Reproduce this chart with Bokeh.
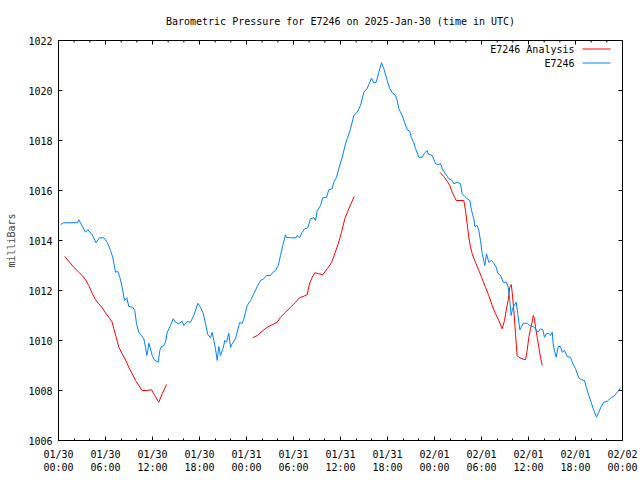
import math
from bokeh.plotting import figure
from bokeh.models import FixedTicker, Range1d, Label, BoxAnnotation
from bokeh.embed import file_html
from bokeh.resources import INLINE

NAN = float("nan")
FONT = "DejaVu Sans Mono"
RED = "#ff0000"
BLUE = "#0080ff"

# x in hours since 2025-01-30 00:00 UTC
X_START, X_END = 0, 72
Y_START, Y_END = 1006, 1022
tick_hours = [0, 6, 12, 18, 24, 30, 36, 42, 48, 54, 60, 66, 72]
tick_labels = ["01/30\n00:00", "01/30\n06:00", "01/30\n12:00", "01/30\n18:00",
               "01/31\n00:00", "01/31\n06:00", "01/31\n12:00", "01/31\n18:00",
               "02/01\n00:00", "02/01\n06:00", "02/01\n12:00", "02/01\n18:00",
               "02/02\n00:00"]
minor_hours = [2, 4, 8, 10, 14, 16, 20, 22, 26, 28, 32, 34, 38, 40, 44, 46, 50, 52,
               56, 58, 62, 64, 68, 70]
y_ticks = [1006, 1008, 1010, 1012, 1014, 1016, 1018, 1020, 1022]
series_names = ["E7246 Analysis", "E7246"]

obs_hours = [0.26, 0.64, 2.43, 2.59, 3.45, 3.74, 4.30, 4.81, 5.23, 5.78, 6.22, 6.64, 6.93,
             7.28, 7.57, 7.83, 8.13, 8.43, 8.72, 8.97, 9.49, 9.74, 9.96, 10.25, 10.60,
             10.89, 11.11, 11.27, 11.40, 11.53, 11.74, 11.96, 12.22, 12.73, 12.93, 13.15,
             13.37, 13.66, 13.88, 14.30, 14.64, 14.94, 15.36, 15.79, 16.00, 16.43, 16.85,
             17.27, 17.78, 18.13, 18.47, 18.77, 19.06, 19.40, 19.62, 19.83, 20.04, 20.26,
             20.46, 20.68, 21.03, 21.23, 21.45, 21.74, 21.96, 22.17, 22.60, 22.81, 23.11,
             23.45, 23.66, 24.09, 24.51, 24.93, 25.37, 25.79, 26.21, 26.55, 27.06, 27.32,
             27.70, 28.05, 28.34, 28.63, 28.98, 29.07, 29.62, 30.34, 30.47, 30.77, 31.11,
             31.44, 31.83, 32.17, 32.59, 32.81, 33.03, 33.45, 33.74, 34.21, 34.51, 34.94,
             35.14, 35.49, 35.78, 36.22, 36.64, 36.86, 37.28, 37.70, 38.13, 38.55, 38.97,
             39.41, 39.74, 39.96, 40.25, 40.56, 40.89, 41.23, 41.53, 41.96, 42.29, 42.60,
             43.02, 43.24, 43.44, 43.88, 44.17, 44.51, 44.85, 45.03, 45.36, 45.57, 46.00,
             46.43, 46.76, 47.07, 47.19, 47.71, 48.13, 48.55, 48.77, 48.98, 49.40, 49.83,
             50.26, 50.46, 50.89, 51.32, 51.53, 51.87, 52.17, 52.51, 52.72, 53.02, 53.15,
             53.45, 53.66, 53.87, 54.09, 54.29, 54.42, 54.64, 54.93, 55.28, 55.57, 55.88,
             56.08, 56.43, 56.77, 57.19, 57.41, 57.61, 57.79, 57.96, 58.17, 58.43, 58.63,
             58.89, 59.11, 59.32, 59.83, 60.17, 60.60, 60.89, 61.19, 61.53, 61.83, 62.04,
             62.30, 62.59, 62.81, 63.03, 63.15, 63.36, 63.54, 63.79, 64.09, 64.30, 64.60,
             64.94, 65.36, 65.66, 66.00, 66.42, 66.73, 67.15, 67.40, 67.70, 68.00, 68.26,
             68.68, 68.97, 69.28, 69.61, 70.05, 70.38, 70.60, 70.89, 71.23, 71.53, 71.74]
obs_mbar = [1014.63, 1014.71, 1014.71, 1014.83, 1014.33, 1014.43, 1014.23, 1013.91, 1014.11,
            1014.11, 1013.93, 1013.60, 1013.33, 1012.73, 1012.77, 1012.53, 1012.13, 1011.60,
            1011.71, 1011.36, 1011.33, 1011.20, 1010.67, 1010.33, 1010.20, 1010.07, 1009.73,
            1009.40, 1009.60, 1009.89, 1009.67, 1009.40, 1009.23, 1009.13, 1009.60, 1009.77,
            1009.77, 1009.93, 1010.33, 1010.60, 1010.87, 1010.73, 1010.67, 1010.77, 1010.60,
            1010.76, 1010.73, 1011.00, 1011.49, 1011.33, 1011.09, 1010.67, 1010.24, 1010.11,
            1010.33, 1010.00, 1009.67, 1009.20, 1009.76, 1009.40, 1009.71, 1010.00, 1009.93,
            1010.29, 1009.73, 1009.87, 1010.07, 1010.33, 1010.71, 1010.69, 1010.87, 1011.40,
            1011.60, 1011.87, 1012.16, 1012.40, 1012.47, 1012.60, 1012.60, 1012.71, 1012.80,
            1013.00, 1013.40, 1013.80, 1014.23, 1014.13, 1014.11, 1014.11, 1014.20, 1014.11,
            1014.33, 1014.47, 1014.51, 1014.87, 1014.91, 1014.80, 1015.20, 1015.40, 1015.71,
            1015.73, 1016.03, 1016.07, 1016.33, 1016.53, 1016.87, 1017.33, 1017.87, 1018.07,
            1018.47, 1019.00, 1019.13, 1019.40, 1019.93, 1020.09, 1020.33, 1020.49, 1020.31,
            1020.33, 1020.73, 1021.11, 1020.87, 1020.40, 1020.07, 1019.91, 1019.80, 1019.60,
            1019.27, 1019.00, 1018.73, 1018.44, 1018.36, 1018.13, 1017.91, 1017.69, 1017.33,
            1017.33, 1017.51, 1017.60, 1017.47, 1017.40, 1017.07, 1017.04, 1017.09, 1016.87,
            1016.67, 1016.47, 1016.40, 1016.27, 1016.33, 1016.27, 1015.87, 1015.76, 1015.67,
            1015.60, 1015.20, 1014.87, 1014.56, 1014.60, 1014.40, 1014.00, 1013.47, 1013.20,
            1013.00, 1013.47, 1013.13, 1013.20, 1013.09, 1012.93, 1012.69, 1012.60, 1012.33,
            1012.33, 1012.13, 1011.60, 1011.00, 1011.27, 1011.40, 1011.53, 1011.07, 1010.43,
            1010.56, 1010.69, 1010.69, 1010.60, 1010.56, 1010.47, 1010.33, 1010.47, 1010.43,
            1010.13, 1010.27, 1010.29, 1010.20, 1010.33, 1009.87, 1009.53, 1009.33, 1009.76,
            1009.76, 1009.53, 1009.60, 1009.36, 1009.33, 1009.07, 1008.87, 1008.51, 1008.43,
            1008.40, 1008.11, 1007.80, 1007.53, 1007.27, 1006.93, 1007.13, 1007.36, 1007.53,
            1007.57, 1007.67, 1007.73, 1007.76, 1007.89, 1008.00, 1008.11]

# analysis series (NaN = gap between analysis runs)
ana_hours = [0.80, 1.31, 1.95, 2.59, 3.03, 3.45, 3.87, 4.30, 4.72, 5.14, 5.58, 6.00, 6.42,
             6.86, 7.06, 7.37, 7.70, 8.13, 8.55, 8.97, 9.41, 9.83, 10.25, 10.68, 11.20,
             11.87, 12.29, 12.80, 13.24, 13.79, NAN,
             24.80, 25.37, 26.00, 26.64, 27.28, 27.92, 28.34, 28.98, 29.62, 30.26, 30.77,
             31.31, 31.75, 32.04, 32.39, 32.72, 33.23, 33.74, 34.30, 34.85, 35.27, 35.71,
             36.13, 36.55, 37.06, 37.75, NAN,
             48.68, 49.19, 49.62, 49.95, 50.26, 50.59, 50.77, 51.74, 51.96, 52.17, 52.38,
             52.60, 52.81, 53.23, 53.66, 54.09, 54.51, 54.93, 55.36, 55.79, 56.21, 56.64,
             56.94, 57.19, 57.41, 57.61, 57.79, 57.92, 58.13, 58.34, 58.55, 58.76, 59.19,
             59.62, 59.83, 60.04, 60.26, 60.47, 60.60, 60.77, 60.89, 61.11, 61.32, 61.53,
             61.75]
ana_mbar = [1013.36, 1013.17, 1012.93, 1012.73, 1012.60, 1012.43, 1012.20, 1011.89, 1011.63,
            1011.47, 1011.31, 1011.11, 1010.93, 1010.73, 1010.47, 1010.13, 1009.73, 1009.47,
            1009.23, 1008.93, 1008.67, 1008.40, 1008.20, 1008.00, 1008.00, 1008.03, 1007.80,
            1007.53, 1007.87, 1008.24, NAN,
            1010.11, 1010.20, 1010.37, 1010.53, 1010.63, 1010.73, 1010.93, 1011.13, 1011.33,
            1011.53, 1011.71, 1011.77, 1011.84, 1012.27, 1012.53, 1012.71, 1012.67, 1012.63,
            1012.87, 1013.11, 1013.47, 1013.87, 1014.33, 1014.87, 1015.27, 1015.76, NAN,
            1016.73, 1016.56, 1016.37, 1016.20, 1015.93, 1015.71, 1015.60, 1015.60, 1015.20,
            1014.67, 1014.13, 1013.73, 1013.47, 1013.13, 1012.80, 1012.47, 1012.13, 1011.80,
            1011.40, 1011.07, 1010.80, 1010.47, 1010.80, 1011.27, 1011.63, 1012.13, 1012.24,
            1011.93, 1011.20, 1010.27, 1009.40, 1009.33, 1009.27, 1009.23, 1009.60, 1010.13,
            1010.47, 1010.73, 1011.00, 1010.87, 1010.53, 1010.13, 1009.73, 1009.33, 1009.00]

p = figure(width=640, height=480, output_backend="svg", toolbar_location=None,
           x_range=Range1d(X_START, X_END), y_range=Range1d(Y_START, Y_END),
           min_border_left=58, min_border_right=18, min_border_top=40, min_border_bottom=40,
           background_fill_color="white", border_fill_color="white")

p.title.text = "Barometric Pressure for E7246 on 2025-Jan-30 (time in UTC)"
p.title.align = "center"
p.title.text_font = FONT
p.title.text_font_size = "10px"
p.title.text_font_style = "normal"
p.title.text_color = "black"
p.title.offset = -9
p.title.standoff = 27

p.grid.visible = False
p.outline_line_color = "black"
p.outline_line_alpha = 1.0
p.outline_line_width = 1

x_ticker = FixedTicker(ticks=tick_hours, minor_ticks=minor_hours)
y_ticker = FixedTicker(ticks=y_ticks, minor_ticks=[])

xa = p.xaxis[0]
xa.ticker = x_ticker
xa.major_label_overrides = {h: lab for h, lab in zip(tick_hours, tick_labels)}
ya = p.yaxis[0]
ya.ticker = y_ticker
ya.axis_label = "milliBars"
ya.axis_label_text_font = FONT
ya.axis_label_text_font_size = "10px"
ya.axis_label_text_font_style = "normal"
ya.axis_label_standoff = 8

for ax in (xa, ya):
    ax.axis_line_color = "black"
    ax.major_tick_in = 4
    ax.major_tick_out = 0
    ax.minor_tick_in = 2
    ax.minor_tick_out = 0
    ax.major_tick_line_color = "black"
    ax.minor_tick_line_color = "black"
    ax.major_label_text_font = FONT
    ax.major_label_text_font_size = "10px"
    ax.major_label_text_color = "black"
    ax.major_label_standoff = 6
xa.major_label_standoff = 8
ya.minor_tick_line_color = None

# mirrored inward ticks on the top and right border (clipped to the frame)
p.scatter(tick_hours, [Y_END] * len(tick_hours), marker="dash", size=8,
          angle=math.pi / 2, line_color="black", line_width=1)
p.scatter(minor_hours, [Y_END] * len(minor_hours), marker="dash", size=4,
          angle=math.pi / 2, line_color="black", line_width=1)
p.scatter([X_END] * len(y_ticks), y_ticks, marker="dash", size=8,
          line_color="black", line_width=1)

p.line(ana_hours, ana_mbar, line_color=RED, line_width=1)
p.line(obs_hours, obs_mbar, line_color=BLUE, line_width=1)

# gnuplot-style key: right-aligned text followed by a line sample
# (positions in screen pixels relative to the plot frame, y measured from the bottom)
for i, (name, col) in enumerate(zip(series_names, [RED, BLUE])):
    yk = 391 - 14 * i
    p.add_layout(Label(x=516, y=yk, x_units="screen", y_units="screen", text=name,
                       text_align="right", text_baseline="middle", text_font=FONT,
                       text_font_size="10px", text_color="black"))
    p.add_layout(BoxAnnotation(left=524, right=552, bottom=yk, top=yk + 1,
                               left_units="screen", right_units="screen",
                               bottom_units="screen", top_units="screen",
                               fill_color=col, fill_alpha=1.0, line_color=None))

open("out.html", "w").write(file_html(p, INLINE))
